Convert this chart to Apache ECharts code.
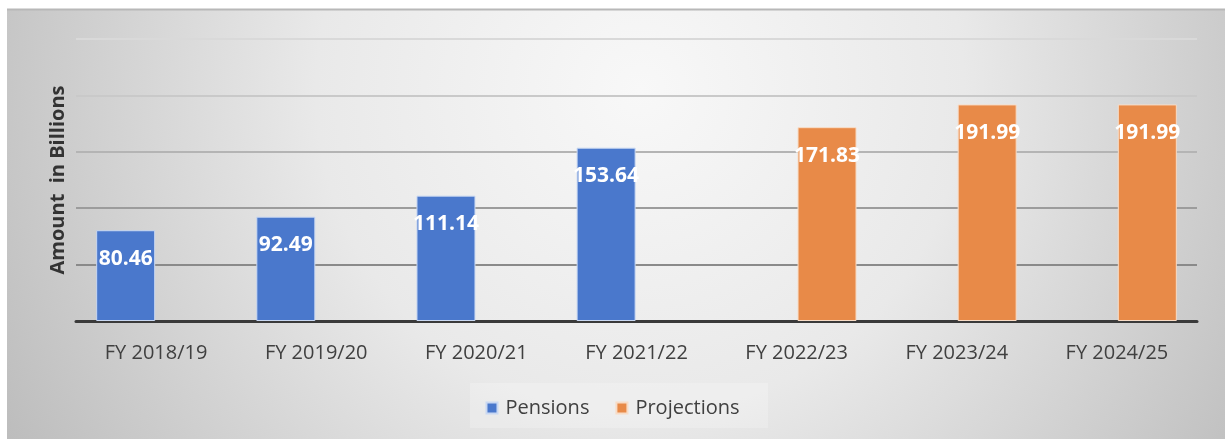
<!DOCTYPE html>
<html>
<head>
<meta charset="utf-8">
<script src="https://cdn.jsdelivr.net/npm/echarts@6/dist/echarts.min.js"></script>
<style>
  html, body { margin: 0; padding: 0; background: #fff; }
  #chart { width: 1225px; height: 439px; }
</style>
</head>
<body>
<div id="chart"></div>
<script>
  // data
  var categories = ["FY 2018/19", "FY 2019/20", "FY 2020/21", "FY 2021/22", "FY 2022/23", "FY 2023/24", "FY 2024/25"];
  var pensions = [80.46, 92.49, 111.14, 153.64, "-", "-", "-"];
  var projections = ["-", "-", "-", "-", 171.83, 191.99, 191.99];
  var seriesNames = ["Pensions", "Projections"];
  var yMin = 0, yMax = 250, yStep = 50;

  var font = "'Open Sans', 'Noto Sans', sans-serif";
  var myChart = echarts.init(document.getElementById("chart"));

  var labelStyle = {
    show: true,
    position: "insideTop",
    distance: 18,
    color: "#fff",
    fontFamily: font,
    fontWeight: "bold",
    fontSize: 21
  };

  var option = {
    animation: false,
    graphic: [
      {
        type: "rect",
        z: -10,
        silent: true,
        shape: { x: 7, y: 9, width: 1218, height: 430 },
        style: {
          fill: {
            type: "radial", x: 640, y: 90, r: 720, global: true,
            colorStops: [
              { offset: 0, color: "#f8f8f8" },
              { offset: 0.45, color: "#e9e9e9" },
              { offset: 1, color: "#bdbdbd" }
            ]
          }
        }
      },
      {
        type: "line",
        z: -9,
        silent: true,
        shape: { x1: 7, y1: 9.5, x2: 1225, y2: 9.5 },
        style: { stroke: "#b8b8b8", lineWidth: 2 }
      },
      {
        type: "rect",
        z: -8,
        silent: true,
        shape: { x: 470, y: 383, width: 298, height: 45 },
        style: { fill: "rgba(255,255,255,0.22)" }
      }
    ],
    grid: { left: 76, right: 28, top: 39, bottom: 118 },
    legend: {
      data: seriesNames,
      left: "center",
      top: 393,
      itemWidth: 11,
      itemHeight: 11,
      itemGap: 26,
      icon: "rect",
      textStyle: { fontFamily: font, fontSize: 20, color: "#404040", padding: [0, 0, 0, 3] }
    },
    xAxis: {
      type: "category",
      data: categories,
      axisLine: { lineStyle: { color: "#3a3a3a", width: 3 } },
      axisTick: { show: false },
      axisLabel: { fontFamily: font, fontSize: 20, color: "#404040", margin: 22 }
    },
    yAxis: {
      type: "value",
      min: yMin,
      max: yMax,
      interval: yStep,
      name: "Amount  in Billions",
      nameLocation: "middle",
      nameGap: 8,
      nameTextStyle: { fontFamily: font, fontSize: 20, fontWeight: "bold", color: "#333" },
      axisLine: { show: false },
      axisTick: { show: false },
      axisLabel: { show: false },
      splitLine: {
        lineStyle: { color: ["#3a3a3a", "#8a8a8a", "#9c9c9c", "#b4b4b4", "#c9c9c9", "#d9d9d9"], width: 2 }
      }
    },
    series: [
      {
        name: seriesNames[0],
        type: "bar",
        data: pensions,
        barWidth: 59,
        barGap: "3%",
        itemStyle: { color: "#4a78cc", borderColor: "#c9d8f2", borderWidth: 1 },
        label: labelStyle
      },
      {
        name: seriesNames[1],
        type: "bar",
        data: projections,
        barWidth: 59,
        barGap: "3%",
        itemStyle: { color: "#e88a48", borderColor: "#f8dcc6", borderWidth: 1 },
        label: labelStyle
      }
    ]
  };

  option && myChart.setOption(option);
</script>
</body>
</html>
